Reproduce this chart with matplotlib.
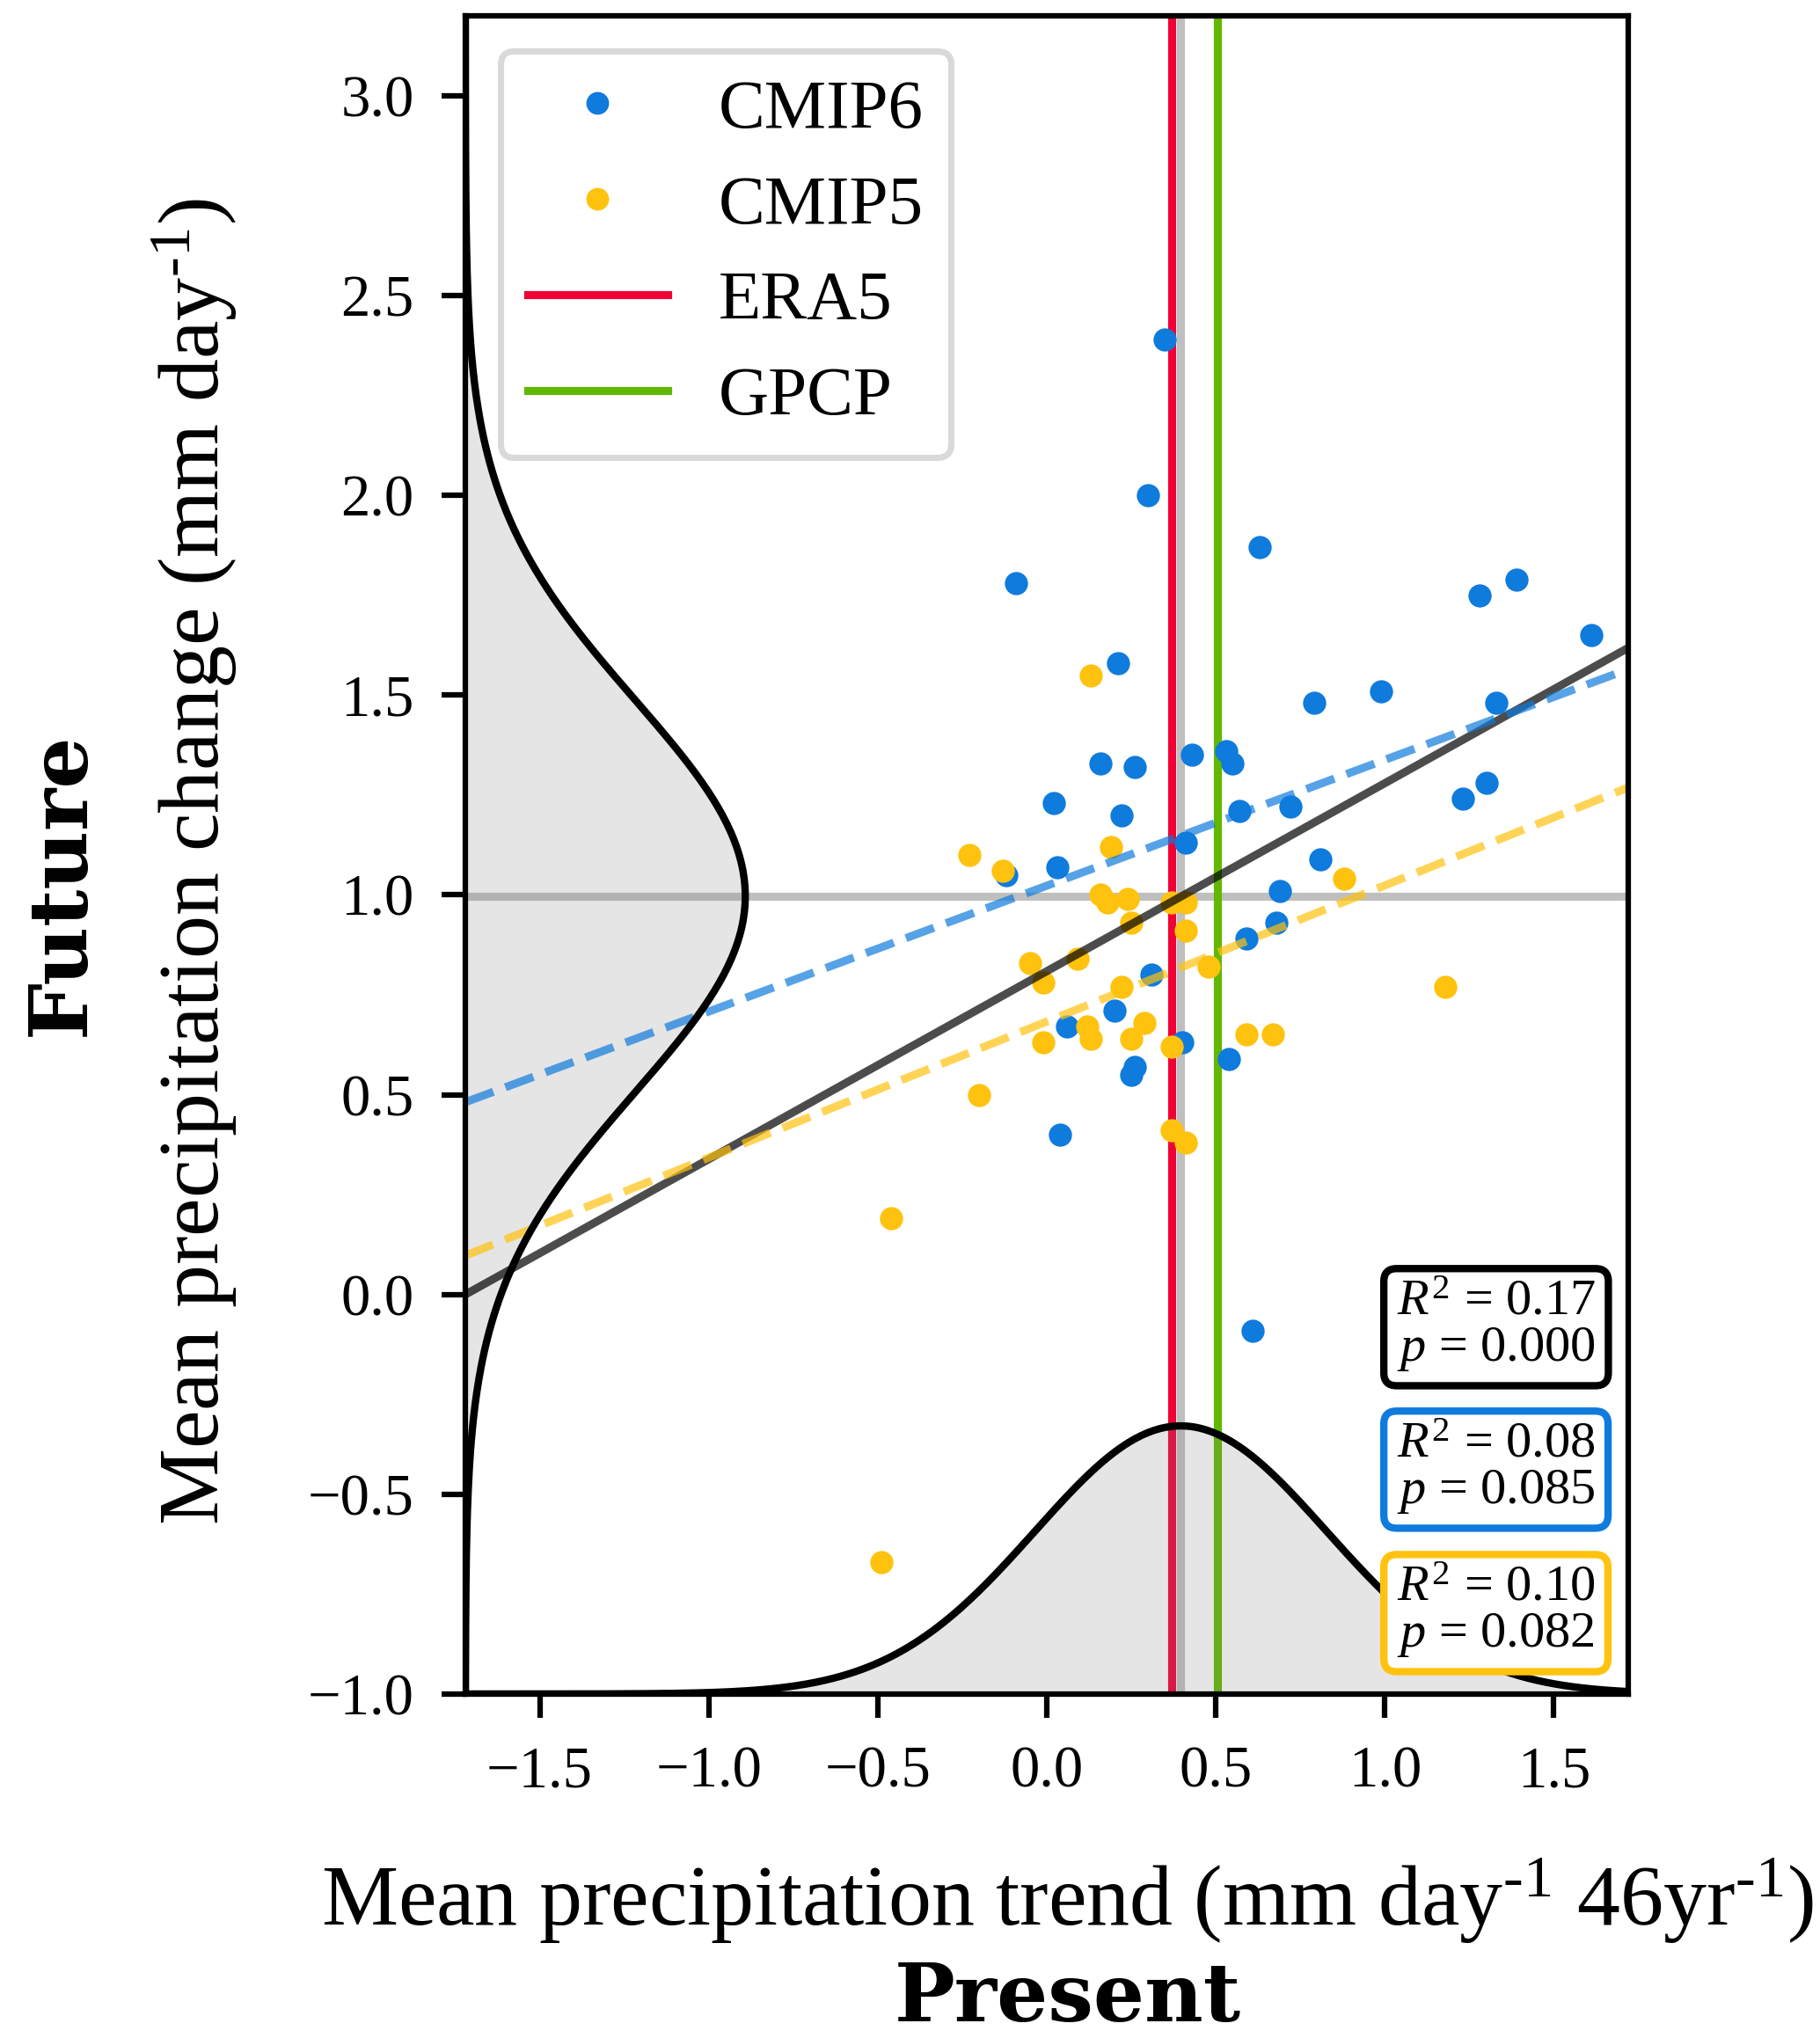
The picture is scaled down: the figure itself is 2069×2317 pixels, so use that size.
import numpy as np
import matplotlib.pyplot as plt
from matplotlib.lines import Line2D

plt.rcParams['font.family'] = 'Liberation Serif'
plt.rcParams['mathtext.fontset'] = 'custom'
plt.rcParams['mathtext.rm'] = 'Liberation Serif'
plt.rcParams['mathtext.it'] = 'Liberation Serif:italic'

# present trend (x) vs future change (y)
cmip6_x = [0.30, -0.09, 0.63, 1.28, 1.39, 1.61, 0.21, 0.79, 0.99, 1.33,
           0.43, 0.53, 0.55, 0.16, 0.26, 0.02, 0.22, 0.57, 0.72, 1.30,
           1.23, 0.41, 0.03, -0.12, 0.81, 0.69, 0.68, 0.59, 0.31, 0.20,
           0.06, 0.40, 0.54, 0.26, 0.25, 0.04, 0.61, 0.35]
cmip6_y = [2.00, 1.78, 1.87, 1.75, 1.79, 1.65, 1.58, 1.48, 1.51, 1.48,
           1.35, 1.36, 1.33, 1.33, 1.32, 1.23, 1.20, 1.21, 1.22, 1.28,
           1.24, 1.13, 1.07, 1.05, 1.09, 1.01, 0.93, 0.89, 0.80, 0.71,
           0.67, 0.63, 0.59, 0.57, 0.55, 0.40, -0.09, 2.39]
cmip5_x = [0.13, -0.23, -0.13, 0.19, 0.16, 0.18, 0.24, 0.37, 0.41, 0.88,
           0.25, 0.41, -0.05, 0.09, -0.01, 0.48, 0.22, 1.18, 0.12, 0.29,
           0.13, -0.01, 0.25, 0.37, 0.59, 0.67, -0.20, 0.37, 0.41, -0.46,
           -0.49]
cmip5_y = [1.55, 1.10, 1.06, 1.12, 1.00, 0.98, 0.99, 0.98, 0.98, 1.04,
           0.93, 0.91, 0.83, 0.84, 0.78, 0.82, 0.77, 0.77, 0.67, 0.68,
           0.64, 0.63, 0.64, 0.62, 0.65, 0.65, 0.50, 0.41, 0.38, 0.19,
           -0.67]

era5_trend = 0.37
gpcp_trend = 0.505

# regression lines (slope, intercept)
fit_all = (0.4705, 0.809)
fit_cmip6 = (0.315, 1.023)
fit_cmip5 = (0.3406, 0.683)

stat_r2 = [0.17, 0.08, 0.10]
stat_p = [0.000, 0.085, 0.082]

c6 = '#0f7bdc'
c5 = '#ffc20e'
c_era = '#f00034'
c_gpcp = '#62b800'

xlim = (-1.72, 1.72)
ylim = (-1.0, 3.2)

fig = plt.figure(figsize=(2069 / 300, 2317 / 300), dpi=300)
ax = fig.add_axes([0.2557, 0.1688, 0.6389, 0.8234])
ax.set_xlim(xlim)
ax.set_ylim(ylim)

all_x = np.array(cmip6_x + cmip5_x)
all_y = np.array(cmip6_y + cmip5_y)

# mean lines
ax.axvline(all_x.mean(), color='#bfbfbf', lw=2.2, zorder=1)
ax.axhline(all_y.mean(), color='#bfbfbf', lw=2.2, zorder=1)

# observations
ax.axvline(era5_trend, color=c_era, lw=2.2, zorder=1.2)
ax.axvline(gpcp_trend, color=c_gpcp, lw=2.2, zorder=1.2)


def norm_curve(vals, grid):
    mu, sd = vals.mean(), vals.std(ddof=1)
    return np.exp(-0.5 * ((grid - mu) / sd) ** 2)


# marginal distribution along bottom
gx = np.linspace(xlim[0], xlim[1], 400)
dx = norm_curve(all_x, gx) * 0.671 + ylim[0]
ax.fill_between(gx, ylim[0], dx, color='grey', alpha=0.2, lw=0, zorder=1.5)
ax.plot(gx, dx, color='black', lw=2.0, zorder=4)

# marginal distribution along left side
gy = np.linspace(ylim[0], ylim[1], 400)
dy = norm_curve(all_y, gy) * 0.828 + xlim[0]
ax.fill_betweenx(gy, xlim[0], dy, color='grey', alpha=0.2, lw=0, zorder=1.5)
ax.plot(dy, gy, color='black', lw=2.0, zorder=4)

ax.scatter(cmip6_x, cmip6_y, s=40, color=c6, linewidths=0, zorder=2)
ax.scatter(cmip5_x, cmip5_y, s=40, color=c5, linewidths=0, zorder=2.5)

xx = np.array(xlim)
ax.plot(xx, fit_all[0] * xx + fit_all[1], color='black', alpha=0.7, lw=2.2, zorder=3)
ax.plot(xx, fit_cmip6[0] * xx + fit_cmip6[1], color=c6, alpha=0.7, lw=2.2, ls='--', zorder=3)
ax.plot(xx, fit_cmip5[0] * xx + fit_cmip5[1], color=c5, alpha=0.7, lw=2.2, ls='--', zorder=3)

handles = [
    Line2D([], [], ls='none', marker='o', ms=6.2, mfc=c6, mec='none'),
    Line2D([], [], ls='none', marker='o', ms=6.2, mfc=c5, mec='none'),
    Line2D([], [], color=c_era, lw=2.2),
    Line2D([], [], color=c_gpcp, lw=2.2),
]
leg = ax.legend(handles, ['CMIP6', 'CMIP5', 'ERA5', 'GPCP'], loc='upper left',
                fontsize=19, handlelength=2.0, handletextpad=0.73,
                labelspacing=0.46, borderpad=0.4, fancybox=True, framealpha=1)
leg.get_frame().set_edgecolor('#d9d9d9')
leg.get_frame().set_linewidth(1.7)
leg.set_zorder(6)

# stats boxes
box_cols = ['black', c6, c5]
box_tops = [0.2469, 0.162, 0.0765]
for r2, p, col, yt in zip(stat_r2, stat_p, box_cols, box_tops):
    ax.text(0.8009, yt, f'$R^2$ = {r2:.2f}\n$p$ = {p:.3f}', transform=ax.transAxes,
            ha='left', va='top', fontsize=14, linespacing=1.0, zorder=7,
            bbox=dict(boxstyle='round,pad=0.25', fc='white', ec=col, lw=2.0))

for sp in ax.spines.values():
    sp.set_linewidth(1.5)
    sp.set_zorder(5)
ax.set_xticks([-1.5, -1.0, -0.5, 0.0, 0.5, 1.0, 1.5])
ax.set_yticks([-1.0, -0.5, 0.0, 0.5, 1.0, 1.5, 2.0, 2.5, 3.0])
ax.tick_params(length=6.5, width=1.5, pad=7.5, labelsize=16)

sup = '$^{\\mathregular{\u20101}}$'
fig.text(0.5863, 0.0557, 'Mean precipitation trend (mm day' + sup + ' 46yr' + sup + ')',
         ha='center', va='baseline', fontsize=23.5)
fig.text(0.5867, 0.0, 'Present', ha='center', va='bottom', fontsize=22,
         family='DejaVu Serif', weight='bold')
fig.text(0.1065, 0.5775, 'Mean precipitation change (mm day' + sup + ')',
         ha='center', va='center', rotation=90, fontsize=23.5)
fig.text(0.034, 0.5663, 'Future', ha='center', va='center', rotation=90, fontsize=22,
         family='DejaVu Serif', weight='bold')

fig.savefig('out.png', dpi=300)
